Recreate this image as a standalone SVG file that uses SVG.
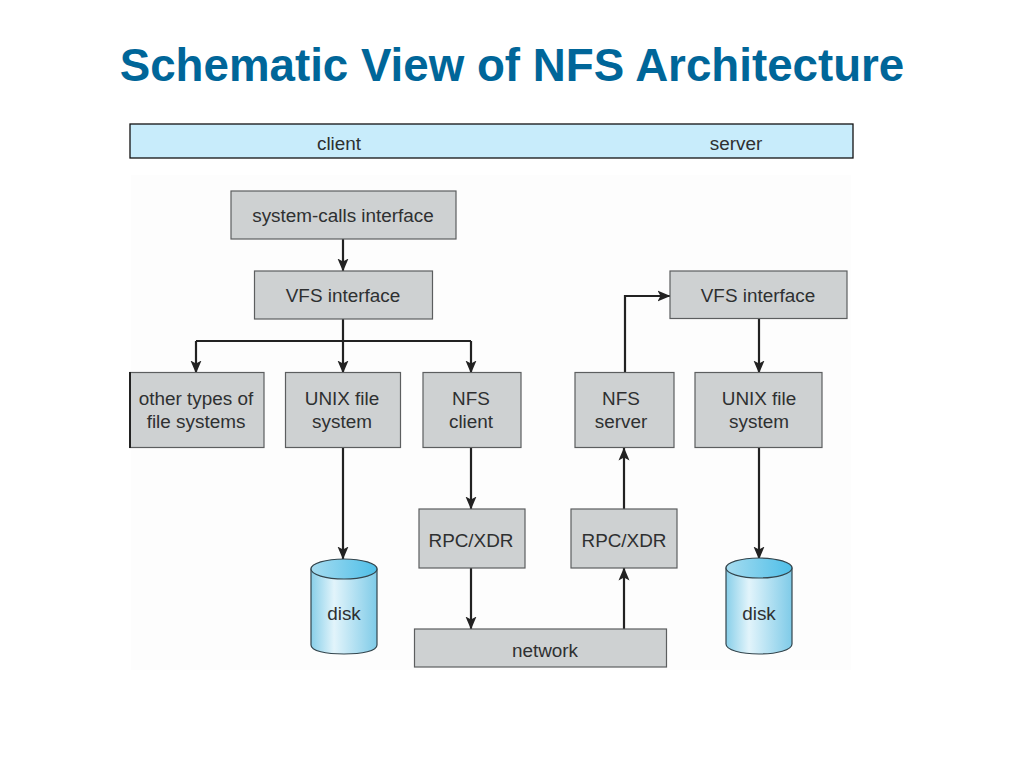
<svg xmlns="http://www.w3.org/2000/svg" width="1024" height="768" viewBox="0 0 1024 768">
<style>
text{font-family:"Liberation Sans",Arial,sans-serif;text-anchor:middle;fill:#2e3031;font-size:18.900px}
.title{font-size:45.700px;font-weight:bold;fill:#006699}
.box{fill:#ced1d2;stroke:#5c5e5f;stroke-width:1.200}
.band{fill:#c8ecfb;stroke:#111;stroke-width:1.300}
.cyl{fill:url(#body);stroke:#33454d;stroke-width:1.200}
.cap{fill:url(#top);stroke:#33454d;stroke-width:1.200}
.w{fill:none;stroke:#222;stroke-width:2.200}
.a{fill:none;stroke:#222;stroke-width:2.200;marker-end:url(#ah)}
</style>
<defs>
<marker id="ah" viewBox="0 0 13 12" refX="12.500" refY="6" markerUnits="userSpaceOnUse" markerWidth="13" markerHeight="12" orient="auto"><path d="M0 .5L13 6L0 11.500L3 6Z" fill="#222"/></marker>
<linearGradient id="body"><stop offset="0" stop-color="#88cfe9"/><stop offset=".35" stop-color="#e2f4fb"/><stop offset="1" stop-color="#7fcbe8"/></linearGradient>
<linearGradient id="top"><stop offset="0" stop-color="#a6dcf0"/><stop offset="1" stop-color="#4fbfe8"/></linearGradient>
</defs>
<rect width="1024" height="768" fill="#fff"/>
<rect x="131" y="175" width="720" height="495" fill="#fdfdfd"/>
<text class="title" x="512" y="81">Schematic View of NFS Architecture</text>
<g id="band"><rect class="band" x="130" y="124" width="723" height="34"/><text x="339" y="150">client</text><text x="736" y="150">server</text></g>
<g id="connectors">
<path class="a" d="M343 239V271"/>
<path class="w" d="M343 319V341M196 341H471"/>
<path class="a" d="M196 341V373"/>
<path class="a" d="M343 341V373"/>
<path class="a" d="M471 341V373"/>
<path class="a" d="M343 448V559"/>
<path class="a" d="M471 448V509"/>
<path class="a" d="M471 568V629"/>
<path class="a" d="M624 629V568"/>
<path class="a" d="M624 509V448"/>
<path class="a" d="M625 373V296H670"/>
<path class="a" d="M759 319V373"/>
<path class="a" d="M759 448V559"/>
</g>
<g id="syscalls"><rect class="box" x="231" y="191" width="225" height="48"/><text x="343" y="222">system-calls interface</text></g>
<g id="vfs1"><rect class="box" x="254.500" y="271" width="178" height="48"/><text x="343" y="302">VFS interface</text></g>
<g id="other"><rect class="box" x="130" y="372.500" width="134" height="75"/><path d="M130 372V448" stroke="#222" stroke-width="2"/><text x="196" y="405">other types of</text><text x="196" y="428">file systems</text></g>
<g id="unix1"><rect class="box" x="285.500" y="372.500" width="115" height="75"/><text x="342" y="405">UNIX file</text><text x="342" y="428">system</text></g>
<g id="nfsc"><rect class="box" x="423" y="372.500" width="98" height="75"/><text x="471" y="405">NFS</text><text x="471" y="428">client</text></g>
<g id="rpc1"><rect class="box" x="419" y="509" width="106" height="59"/><text x="471" y="547">RPC/XDR</text></g>
<g id="net"><rect class="box" x="414.500" y="629" width="252" height="38"/><text x="545" y="657">network</text></g>
<g id="rpc2"><rect class="box" x="571" y="509" width="106" height="59"/><text x="624" y="547">RPC/XDR</text></g>
<g id="nfss"><rect class="box" x="575" y="372.500" width="99" height="75"/><text x="621" y="405">NFS</text><text x="621" y="428">server</text></g>
<g id="vfs2"><rect class="box" x="670" y="271" width="177" height="47.500"/><text x="758" y="302">VFS interface</text></g>
<g id="unix2"><rect class="box" x="695" y="372.500" width="127" height="75"/><text x="759" y="405">UNIX file</text><text x="759" y="428">system</text></g>
<g id="disk1"><path class="cyl" d="M311 569V645C311 651 326 654 344 654S377 651 377 645V569Z"/><ellipse class="cap" cx="344" cy="569" rx="33" ry="10"/><text x="344" y="620">disk</text></g>
<g id="disk2"><path class="cyl" d="M726 568V644C726 650 741 654 759 654S792 650 792 644V568Z"/><ellipse class="cap" cx="759" cy="568" rx="33" ry="10"/><text x="759" y="620">disk</text></g>
</svg>
